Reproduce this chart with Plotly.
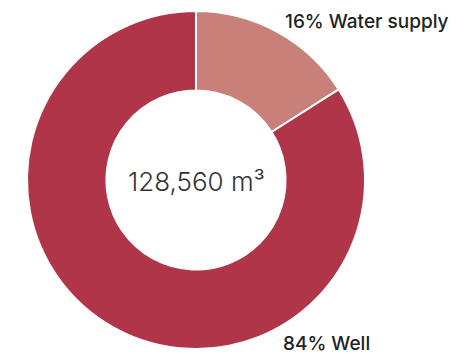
import plotly.graph_objects as go

labels = ["Water supply", "Well"]
values = [20570, 107990]
colors = ["#C98079", "#B03548"]
total_label = "128,560 m³"

total = sum(values)
pcts = [round(v / total * 100) for v in values]

W, H = 466, 346  # page body has an 8px margin

fig = go.Figure(go.Pie(
    labels=labels,
    values=values,
    hole=0.53,
    sort=False,
    direction="clockwise",
    rotation=0,
    marker=dict(colors=colors, line=dict(color="white", width=2)),
    textinfo="none",
    hoverinfo="label+percent",
    showlegend=False,
    domain=dict(x=[19/W, 357/W], y=[1-341/H, 1-3/H]),
))

fig.add_annotation(x=275/W, y=1-13/H, xref="paper", yref="paper",
                   text=f"{pcts[0]}% {labels[0]}", showarrow=False,
                   xanchor="left", yanchor="middle",
                   font=dict(family="Inter", size=19, color="#222222", weight=500))
fig.add_annotation(x=273/W, y=1-335/H, xref="paper", yref="paper",
                   text=f"{pcts[1]}% {labels[1]}", showarrow=False,
                   xanchor="left", yanchor="middle",
                   font=dict(family="Inter", size=19, color="#222222", weight=500))
fig.add_annotation(x=188.5/W, y=1-173/H, xref="paper", yref="paper",
                   text=total_label, showarrow=False,
                   xanchor="center", yanchor="middle",
                   font=dict(family="Inter", size=26, color="#333333", weight=300))

fig.update_layout(width=W, height=H, margin=dict(l=0, r=0, t=0, b=0),
                  paper_bgcolor="white", plot_bgcolor="white")
fig.write_html("out.html")
